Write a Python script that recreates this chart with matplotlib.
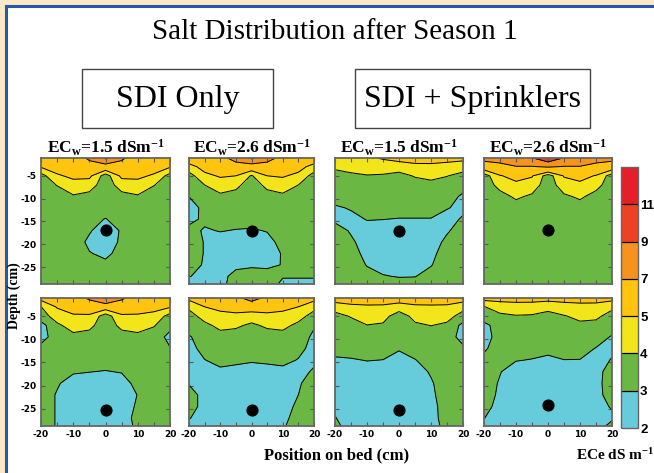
import matplotlib
matplotlib.use("Agg")
import matplotlib.pyplot as plt
from matplotlib.patches import Rectangle
from matplotlib.lines import Line2D

plt.rcParams['mathtext.fontset'] = 'custom'
plt.rcParams['mathtext.rm'] = 'Liberation Serif:bold'
plt.rcParams['mathtext.it'] = 'Liberation Serif:bold'
plt.rcParams['mathtext.bf'] = 'Liberation Serif:bold'

# grid of the soil profile (cm)
position = [-20, -15, -10, -5, 0, 5, 10, 15, 20]
depth = [-1.1, -3, -5, -7, -9.5, -12, -14.5, -17, -19.5, -22, -24.5, -27, -28.7]

# ECe classes of the legend
ece_levels = [2, 3, 4, 5, 7, 9, 11, 13]
ece_ticks = [2, 3, 4, 5, 7, 9, 11]
ece_colors = ['#66CBDA', '#6AB744', '#F2E61B', '#FEC40E', '#F6931E', '#EE4124', '#E51E2A']

panel_titles = ['EC$_\\mathrm{w}$=1.5 dSm$^\\mathrm{-1}$', 'EC$_\\mathrm{w}$=2.6 dSm$^\\mathrm{-1}$',
                'EC$_\\mathrm{w}$=1.5 dSm$^\\mathrm{-1}$', 'EC$_\\mathrm{w}$=2.6 dSm$^\\mathrm{-1}$']

# ECe (dS/m), one row per depth, one column per position
sdi_15_shallow = [
    [5.8, 5.9, 6.0, 7.3, 9.3, 7.3, 6.0, 5.9, 5.8],
    [5.11, 5.43, 5.61, 6.31, 6.0, 6.31, 5.61, 5.43, 5.11],
    [3.6, 4.88, 5.2, 5.26, 3.5, 5.26, 5.2, 4.88, 3.6],
    [3.5, 4.04, 4.67, 4.42, 3.5, 4.42, 4.67, 4.04, 3.5],
    [3.5, 3.52, 3.9, 3.72, 3.5, 3.72, 3.9, 3.52, 3.5],
    [3.5, 3.5, 3.5, 3.5, 3.5, 3.5, 3.5, 3.5, 3.5],
    [3.5, 3.5, 3.5, 3.4, 2.95, 3.5, 3.5, 3.5, 3.5],
    [3.5, 3.5, 3.5, 3.1, 2.5, 3.1, 3.5, 3.5, 3.5],
    [3.5, 3.5, 3.5, 2.8, 2.55, 3.15, 3.5, 3.5, 3.5],
    [3.5, 3.5, 3.5, 3.05, 2.8, 3.3, 3.5, 3.5, 3.5],
    [3.5, 3.5, 3.5, 3.4, 3.2, 3.5, 3.5, 3.5, 3.5],
    [3.5, 3.5, 3.5, 3.5, 3.5, 3.5, 3.5, 3.5, 3.5],
    [3.5, 3.5, 3.5, 3.5, 3.5, 3.5, 3.5, 3.5, 3.5],
]
sdi_26_shallow = [
    [5.8, 6.0, 6.5, 7.6, 9.3, 7.6, 6.5, 6.0, 5.8],
    [4.6, 5.41, 5.82, 6.33, 5.9, 6.33, 5.82, 5.41, 4.6],
    [3.6, 4.74, 5.11, 5.0, 3.9, 5.0, 5.11, 4.74, 3.6],
    [3.5, 4.0, 4.48, 4.26, 3.5, 4.26, 4.48, 4.0, 3.5],
    [3.02, 3.5, 3.82, 3.64, 3.5, 3.64, 3.82, 3.5, 3.5],
    [2.5, 3.3, 3.5, 3.5, 3.5, 3.5, 3.5, 3.5, 3.5],
    [2.7, 3.2, 3.4, 3.4, 3.4, 3.45, 3.5, 3.5, 3.5],
    [3.3, 2.9, 3.05, 2.95, 2.9, 3.05, 3.5, 3.5, 3.5],
    [3.5, 2.95, 2.6, 2.5, 2.5, 2.7, 3.3, 3.5, 3.5],
    [3.5, 2.95, 2.5, 2.5, 2.6, 2.7, 3.05, 3.5, 3.5],
    [3.4, 2.9, 2.6, 2.85, 2.9, 2.85, 3.03, 3.4, 3.4],
    [3.05, 2.7, 2.8, 3.2, 3.3, 3.3, 3.05, 3.1, 3.1],
    [2.6, 2.6, 2.8, 3.3, 3.4, 3.35, 2.85, 2.7, 2.7],
]
spr_15_shallow = [
    [4.6, 4.7, 4.8, 5.1, 5.4, 5.4, 5.4, 5.3, 5.3],
    [4.14, 4.28, 4.39, 4.49, 4.43, 4.76, 4.78, 4.7, 4.4],
    [3.72, 3.86, 3.96, 3.9, 3.72, 4.07, 4.22, 4.03, 3.72],
    [3.5, 3.5, 3.6, 3.5, 3.5, 3.64, 3.76, 3.62, 3.5],
    [3.5, 3.5, 3.5, 3.5, 3.5, 3.5, 3.5, 3.5, 2.8],
    [2.85, 3.1, 3.5, 3.5, 3.5, 3.5, 3.5, 3.05, 2.8],
    [2.8, 2.7, 3.05, 3.02, 2.95, 2.95, 2.95, 2.7, 3.1],
    [3.4, 2.9, 2.6, 2.5, 2.5, 2.5, 2.6, 2.9, 3.4],
    [3.5, 3.15, 2.6, 2.5, 2.5, 2.5, 2.6, 3.2, 3.5],
    [3.5, 3.4, 2.7, 2.5, 2.5, 2.5, 2.75, 3.45, 3.5],
    [3.5, 3.5, 2.95, 2.7, 2.6, 2.65, 2.95, 3.5, 3.5],
    [3.5, 3.5, 3.3, 3.05, 2.95, 2.97, 3.3, 3.5, 3.5],
    [3.5, 3.5, 3.5, 3.4, 3.3, 3.3, 3.5, 3.5, 3.5],
]
spr_26_shallow = [
    [7.7, 7.8, 8.0, 8.9, 10.5, 8.9, 8.0, 7.8, 7.7],
    [5.83, 6.42, 6.95, 6.91, 7.18, 6.91, 6.95, 6.42, 5.83],
    [3.5, 4.91, 5.46, 5.09, 3.5, 5.09, 5.46, 4.91, 3.5],
    [3.5, 4.3, 4.7, 4.49, 3.5, 4.49, 4.7, 4.3, 3.5],
    [3.5, 3.7, 4.15, 3.86, 3.5, 3.86, 4.15, 3.7, 3.5],
    [3.5, 3.5, 3.64, 3.5, 3.5, 3.5, 3.64, 3.5, 3.5],
    [3.5, 3.5, 3.5, 3.5, 3.5, 3.5, 3.5, 3.5, 3.5],
    [3.5, 3.5, 3.5, 3.5, 3.5, 3.5, 3.5, 3.5, 3.5],
    [3.5, 3.5, 3.5, 3.5, 3.5, 3.5, 3.5, 3.5, 3.5],
    [3.5, 3.5, 3.5, 3.5, 3.5, 3.5, 3.5, 3.5, 3.5],
    [3.5, 3.5, 3.5, 3.5, 3.5, 3.5, 3.5, 3.5, 3.5],
    [3.5, 3.5, 3.5, 3.5, 3.5, 3.5, 3.5, 3.5, 3.5],
    [3.5, 3.5, 3.5, 3.5, 3.5, 3.5, 3.5, 3.5, 3.5],
]
sdi_15_deep = [
    [5.4, 5.7, 6.0, 7.3, 9.3, 7.3, 6.0, 5.8, 5.7],
    [3.98, 5.1, 5.45, 5.93, 5.67, 5.93, 5.45, 5.31, 5.1],
    [3.6, 4.41, 4.88, 4.8, 3.5, 4.8, 4.88, 4.73, 3.6],
    [2.6, 3.84, 4.36, 4.23, 3.5, 4.23, 4.36, 4.07, 3.3],
    [2.6, 3.5, 3.78, 3.66, 3.5, 3.66, 3.78, 3.54, 2.7],
    [3.3, 3.5, 3.5, 3.5, 3.5, 3.5, 3.5, 3.5, 3.05],
    [3.5, 3.5, 3.5, 3.5, 3.4, 3.5, 3.5, 3.5, 3.5],
    [3.5, 3.5, 3.1, 3.02, 2.95, 3.05, 3.5, 3.5, 3.5],
    [3.5, 3.1, 2.6, 2.5, 2.5, 2.6, 3.3, 3.5, 3.5],
    [3.5, 2.92, 2.5, 2.5, 2.7, 2.6, 3.02, 3.5, 3.5],
    [3.5, 2.92, 2.5, 2.5, 2.5, 2.65, 3.1, 3.5, 3.5],
    [3.5, 2.92, 2.5, 2.5, 2.5, 2.7, 3.2, 3.5, 3.5],
    [3.5, 2.92, 2.5, 2.5, 2.5, 2.65, 3.15, 3.5, 3.5],
]
sdi_26_deep = [
    [5.3, 5.4, 5.8, 6.5, 7.8, 6.5, 5.8, 5.4, 5.4],
    [4.17, 5.0, 5.25, 5.52, 5.67, 5.52, 5.25, 5.0, 4.27],
    [3.66, 4.33, 4.72, 4.72, 4.44, 4.72, 4.72, 4.33, 3.66],
    [3.5, 3.8, 4.23, 4.15, 3.84, 4.15, 4.23, 3.8, 3.1],
    [2.9, 3.5, 3.69, 3.61, 3.5, 3.61, 3.69, 3.5, 2.8],
    [2.6, 3.4, 3.5, 3.5, 3.5, 3.5, 3.5, 3.25, 2.7],
    [2.6, 2.97, 3.3, 3.2, 3.1, 3.15, 3.25, 2.95, 2.85],
    [2.7, 2.6, 2.8, 2.7, 2.6, 2.7, 2.75, 2.75, 3.1],
    [2.95, 2.6, 2.5, 2.5, 2.5, 2.5, 2.6, 2.9, 3.4],
    [3.3, 2.76, 2.5, 2.5, 2.5, 2.5, 2.6, 3.0, 3.5],
    [3.3, 2.76, 2.5, 2.5, 2.5, 2.5, 2.7, 3.15, 3.5],
    [3.05, 2.6, 2.5, 2.5, 2.5, 2.5, 2.8, 3.3, 3.5],
    [2.7, 2.6, 2.5, 2.5, 2.5, 2.5, 2.9, 3.4, 3.5],
]
spr_15_deep = [
    [5.6, 5.6, 5.6, 5.6, 5.6, 5.6, 5.6, 5.6, 5.6],
    [4.42, 4.76, 4.85, 4.83, 4.53, 4.82, 4.85, 4.82, 4.3],
    [3.7, 4.07, 4.41, 4.34, 3.5, 4.31, 4.44, 4.31, 3.66],
    [3.5, 3.64, 3.98, 3.88, 3.5, 3.84, 4.02, 3.84, 2.7],
    [3.5, 3.5, 3.5, 3.5, 3.5, 3.5, 3.52, 3.5, 2.6],
    [3.5, 3.5, 3.5, 3.5, 3.1, 3.5, 3.5, 3.5, 3.2],
    [2.8, 2.9, 3.04, 2.98, 2.6, 2.95, 3.5, 3.5, 3.5],
    [2.6, 2.5, 2.5, 2.5, 2.5, 2.6, 3.1, 3.5, 3.5],
    [2.5, 2.5, 2.5, 2.5, 2.5, 2.5, 2.9, 3.5, 3.5],
    [2.6, 2.5, 2.5, 2.5, 2.5, 2.5, 2.8, 3.5, 3.5],
    [2.8, 2.5, 2.5, 2.5, 2.5, 2.5, 2.75, 3.35, 3.5],
    [3.05, 2.5, 2.5, 2.5, 2.5, 2.5, 2.75, 3.3, 3.5],
    [3.3, 2.5, 2.5, 2.5, 2.5, 2.5, 2.75, 3.2, 3.5],
]
spr_26_deep = [
    [5.4, 5.4, 5.4, 5.4, 5.4, 5.4, 5.4, 5.4, 5.4],
    [3.96, 4.45, 4.59, 4.56, 4.29, 4.59, 4.71, 4.69, 4.2],
    [3.6, 3.8, 3.94, 3.9, 3.7, 3.94, 4.24, 4.18, 3.66],
    [2.7, 3.5, 3.6, 3.5, 3.5, 3.6, 3.8, 3.74, 3.5],
    [2.5, 3.5, 3.5, 3.5, 3.5, 3.5, 3.5, 3.5, 2.9],
    [2.85, 3.5, 3.5, 3.4, 3.2, 3.45, 3.4, 2.95, 2.85],
    [3.3, 3.4, 3.05, 2.95, 2.85, 2.98, 2.97, 2.7, 3.05],
    [3.5, 3.05, 2.5, 2.5, 2.5, 2.5, 2.6, 2.7, 3.4],
    [3.5, 2.9, 2.5, 2.5, 2.5, 2.5, 2.5, 2.7, 3.5],
    [3.5, 2.8, 2.5, 2.5, 2.5, 2.5, 2.5, 2.7, 3.4],
    [3.3, 2.7, 2.5, 2.5, 2.5, 2.5, 2.5, 2.8, 3.05],
    [3.02, 2.6, 2.5, 2.5, 2.5, 2.5, 2.5, 2.7, 2.9],
    [2.8, 2.6, 2.5, 2.5, 2.5, 2.5, 2.5, 2.7, 3.2],
]

panels = [[sdi_15_shallow, sdi_26_shallow, spr_15_shallow, spr_26_shallow],
          [sdi_15_deep, sdi_26_deep, spr_15_deep, spr_26_deep]]
# drip line depth (cm) in each map
dripper_depth = [[-16.9, -17.1, -17.1, -16.8],
                 [-25.3, -25.3, -25.3, -24.2]]

W, H = 654, 473


def frac(x0, y0, x1, y1):
    return [x0 / W, 1 - y1 / H, (x1 - x0) / W, (y1 - y0) / H]


fig = plt.figure(figsize=(W / 100, H / 100), dpi=100)
fig.patch.set_facecolor('#FDE7C6')
fig.add_artist(Rectangle((6 / W, 0), 1, 1 - 7 / H, transform=fig.transFigure,
                         facecolor='white', edgecolor='none', zorder=-5))
fig.add_artist(Line2D([6 / W, 6 / W], [0, 1 - 6.5 / H], transform=fig.transFigure,
                      color='#2558A6', lw=2.2))
fig.add_artist(Line2D([6 / W, 1], [1 - 6.5 / H, 1 - 6.5 / H], transform=fig.transFigure,
                      color='#2558A6', lw=2.2))

col_px = [(41, 170), (189, 314), (335, 463), (484, 612)]
row_px = [(158, 284), (298, 426)]

cs = None
for r in range(2):
    for c in range(4):
        ax = fig.add_axes(frac(col_px[c][0], row_px[r][0], col_px[c][1], row_px[r][1]))
        grid = panels[r][c]
        cs = ax.contourf(position, depth, grid, levels=ece_levels, colors=ece_colors)
        ax.contour(position, depth, grid, levels=ece_levels[1:-1], colors='black',
                   linewidths=0.7)
        ax.scatter([0], [dripper_depth[r][c]], s=60, color='black', zorder=5)
        ax.set_xlim(-20, 20)
        ax.set_ylim(-28.7, -1.1)
        ax.set_xticks([-20, -15, -10, -5, 0, 5, 10, 15, 20])
        ax.set_yticks([-25, -20, -15, -10, -5])
        if r == 1:
            ax.set_xticklabels(['-20', '', '-10', '', '0', '', '10', '', '20'])
        else:
            ax.set_xticklabels([])
        if c == 0:
            ax.set_yticklabels(['-25', '-20', '-15', '-10', '-5'])
        else:
            ax.set_yticklabels([])
        ax.tick_params(direction='in', length=3, width=0.8, color='#555555',
                       top=True, right=True, labelsize=6.5, pad=3)
        for lab in ax.get_xticklabels() + ax.get_yticklabels():
            lab.set_family(['Liberation Sans Narrow', 'DejaVu Sans'])
            lab.set_weight('bold')
        for sp in ax.spines.values():
            sp.set_color('#666666')
            sp.set_linewidth(1.3)
        if r == 0:
            ax.set_title(panel_titles[c], fontsize=12.5, fontweight='bold',
                         family='Liberation Serif', pad=3)

cax = fig.add_axes(frac(621, 167, 638, 428))
cb = fig.colorbar(cs, cax=cax, ticks=ece_ticks, spacing='uniform', drawedges=True)
cb.outline.set_edgecolor('#666666')
cb.outline.set_linewidth(1.0)
cb.dividers.set_color('black')
cb.dividers.set_linewidth(0.9)
cax.tick_params(length=0, labelsize=9.5, pad=1.5)
for lab in cax.get_yticklabels():
    lab.set_family('Liberation Sans')
    lab.set_weight('bold')

fig.text(335 / W, 1 - 32 / H, 'Salt Distribution after Season 1', ha='center', va='center',
         family='Liberation Serif', fontsize=21)
for (x0, x1), label in zip([(82, 273), (355, 590)], ['SDI Only', 'SDI + Sprinklers']):
    fig.add_artist(Rectangle((x0 / W, 1 - 128 / H), (x1 - x0) / W, 59 / H,
                             transform=fig.transFigure, fill=False,
                             edgecolor='#444444', lw=1.0))
    fig.text((x0 + x1) / 2 / W, 1 - 100 / H, label, ha='center', va='center',
             family='Liberation Serif', fontsize=23)

fig.text(14 / W, 1 - 296 / H, 'Depth (cm)', rotation=90, ha='center', va='center',
         family='Liberation Serif', fontweight='bold', fontsize=10)
fig.text(337 / W, 1 - 455 / H, 'Position on bed (cm)', ha='center', va='center',
         family='Liberation Serif', fontweight='bold', fontsize=12)
fig.text(576 / W, 1 - 455 / H, 'ECe dS m$^\\mathrm{-1}$', ha='left', va='center',
         family='Liberation Serif', fontweight='bold', fontsize=11)

fig.savefig('out.png', dpi=100, facecolor=fig.get_facecolor())
